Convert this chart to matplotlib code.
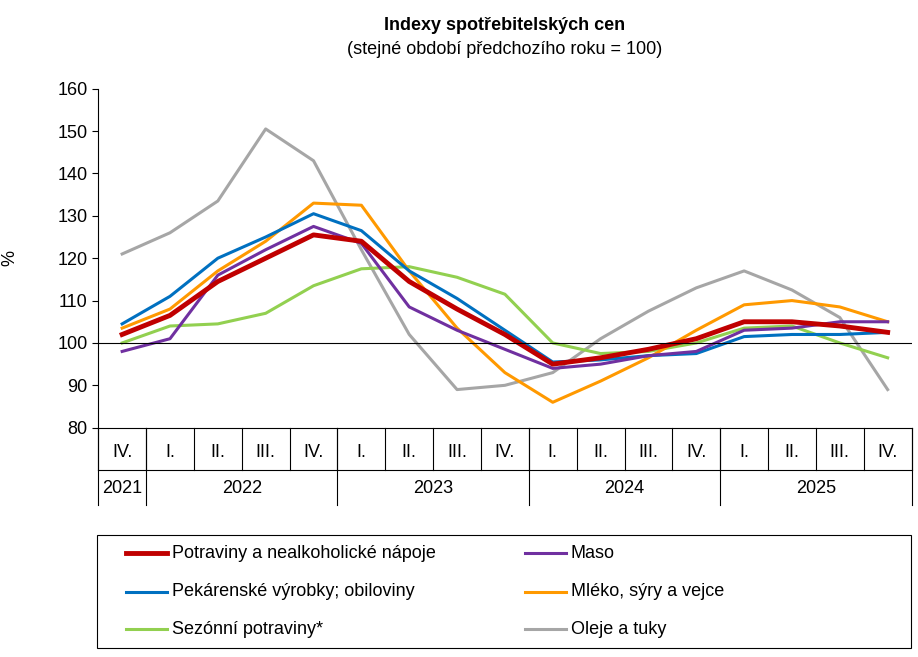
import numpy as np
import matplotlib.pyplot as plt
from matplotlib.patches import Rectangle

quarters = ["IV.", "I.", "II.", "III.", "IV.", "I.", "II.", "III.", "IV.",
            "I.", "II.", "III.", "IV.", "I.", "II.", "III.", "IV."]
years = ["2021", "2022", "2023", "2024", "2025"]
year_len = [1, 4, 4, 4, 4]

potraviny = [102, 106.5, 114.5, 120, 125.5, 124, 114.5, 108, 102, 95, 96.5, 98.5, 101, 105, 105, 104, 102.5]
maso = [98, 101, 116, 122, 127.5, 123.5, 108.5, 103, 98.5, 94, 95, 97, 98, 103, 103.5, 105, 105]
pekarenske = [104.5, 111, 120, 125, 130.5, 126.5, 117, 110.5, 103, 95.5, 96, 97, 97.5, 101.5, 102, 102, 102.5]
mleko = [103.5, 108, 117, 124, 133, 132.5, 117, 103.5, 93, 86, 91, 96.5, 103, 109, 110, 108.5, 105]
sezonni = [100, 104, 104.5, 107, 113.5, 117.5, 118, 115.5, 111.5, 100, 97.5, 98, 100, 103.5, 104, 100, 96.5]
oleje = [121, 126, 133.5, 150.5, 143, 122, 102, 89, 90, 93, 101, 107.5, 113, 117, 112.5, 106, 89]

plt.rcParams['font.family'] = ['Liberation Sans', 'DejaVu Sans']
fig = plt.figure(figsize=(9.18, 6.57), dpi=100)
ax = fig.add_axes([0.107, 0.349, 0.886, 0.516])

x = np.arange(len(quarters))
ax.plot(x, oleje, color='#a6a6a6', lw=2.2)
ax.plot(x, sezonni, color='#92d050', lw=2.2)
ax.plot(x, mleko, color='#ff9900', lw=2.2)
ax.plot(x, pekarenske, color='#0070c0', lw=2.2)
ax.plot(x, maso, color='#7030a0', lw=2.2)
ax.plot(x, potraviny, color='#c00000', lw=3.5)
ax.axhline(100, color='black', lw=0.8)

ax.set_xlim(-0.5, len(quarters) - 0.5)
ax.set_ylim(80, 160)
ax.set_yticks(range(80, 161, 10))
ax.tick_params(axis='y', labelsize=13, length=4)
ax.set_xticks([])
ax.set_ylabel('%', fontsize=13, labelpad=28)
for s in ['top', 'right']:
    ax.spines[s].set_visible(False)

tr = ax.get_xaxis_transform()
for i, q in enumerate(quarters):
    ax.text(i, -0.072, q, transform=tr, ha='center', va='center', fontsize=13)
for i in range(len(quarters) + 1):
    ax.plot([i - 0.5, i - 0.5], [0, -0.124], transform=tr, color='black', lw=0.8, clip_on=False)
start = 0
for y, n in zip(years, year_len):
    ax.text(start + n / 2 - 0.5, -0.18, y, transform=tr, ha='center', va='center', fontsize=13)
    ax.plot([start - 0.5] * 2, [0, -0.227], transform=tr, color='black', lw=0.8, clip_on=False)
    start += n
ax.plot([start - 0.5] * 2, [0, -0.227], transform=tr, color='black', lw=0.8, clip_on=False)
ax.plot([-0.5, start - 0.5], [-0.124, -0.124], transform=tr, color='black', lw=0.8, clip_on=False)

fig.text(0.55, 0.955, 'Indexy spotřebitelských cen', ha='center', fontsize=13, weight='bold')
fig.text(0.55, 0.918, '(stejné období předchozího roku = 100)', ha='center', fontsize=13)

# manual legend, row-wise as in the reference
fig.patches.append(Rectangle((0.106, 0.014), 0.886, 0.172, transform=fig.transFigure,
                             fill=False, edgecolor='black', lw=0.8))
entries = [('Potraviny a nealkoholické nápoje', '#c00000', 3.5), ('Maso', '#7030a0', 2.2),
           ('Pekárenské výrobky; obiloviny', '#0070c0', 2.2), ('Mléko, sýry a vejce', '#ff9900', 2.2),
           ('Sezónní potraviny*', '#92d050', 2.2), ('Oleje a tuky', '#a6a6a6', 2.2)]
col_x = [0.137, 0.572]
row_y = [1 - 553 / 657, 1 - 592 / 657, 1 - 629 / 657]
for k, (lab, c, lw) in enumerate(entries):
    cx = col_x[k % 2]
    cy = row_y[k // 2]
    fig.lines.append(plt.Line2D([cx, cx + 0.045], [cy, cy], transform=fig.transFigure, color=c, lw=lw))
    fig.text(cx + 0.05, cy, lab, va='center', fontsize=13)

fig.savefig('out.png')
